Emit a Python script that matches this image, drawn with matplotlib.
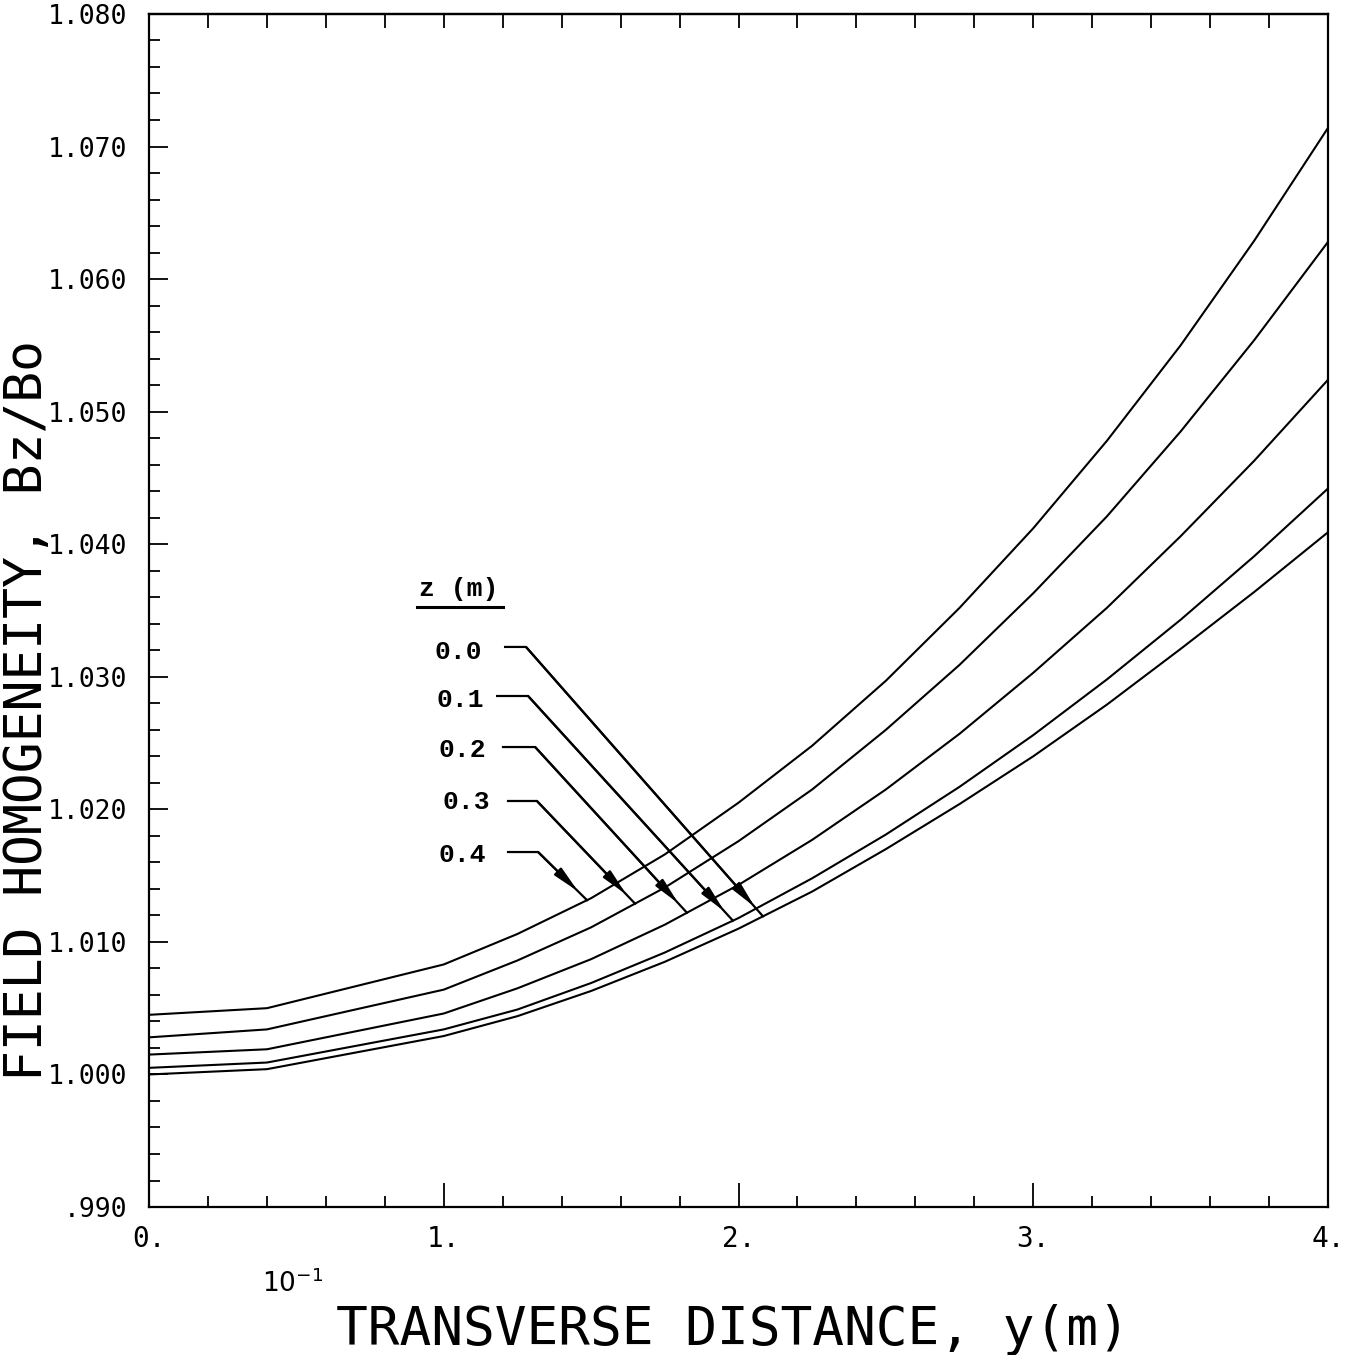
import numpy as np
import matplotlib
matplotlib.use("Agg")
import matplotlib.pyplot as plt
from matplotlib.ticker import MultipleLocator, FixedLocator

# ---------------- data ----------------
y_pos = [0.0, 0.4, 1.0, 1.25, 1.5, 1.75, 2.0, 2.25, 2.5, 2.75, 3.0, 3.25, 3.5, 3.75, 4.0]   # units of 1e-1 m
z_labels = ["0.0", "0.1", "0.2", "0.3", "0.4"]
bz_z00 = [1.0000, 1.0004, 1.0029, 1.0044, 1.0063, 1.0085, 1.0110, 1.0138, 1.0170,
          1.0204, 1.0240, 1.0279, 1.0321, 1.0364, 1.0409]
bz_z01 = [1.0005, 1.0009, 1.0034, 1.0049, 1.0069, 1.0092, 1.0118, 1.0148, 1.0181,
          1.0217, 1.0256, 1.0298, 1.0343, 1.0391, 1.0442]
bz_z02 = [1.0015, 1.0019, 1.0046, 1.0065, 1.0087, 1.0113, 1.0143, 1.0177, 1.0215,
          1.0257, 1.0303, 1.0352, 1.0406, 1.0463, 1.0524]
bz_z03 = [1.0028, 1.0034, 1.0064, 1.0086, 1.0111, 1.0141, 1.0176, 1.0215, 1.0260,
          1.0309, 1.0363, 1.0421, 1.0485, 1.0554, 1.0628]
bz_z04 = [1.0045, 1.0050, 1.0083, 1.0106, 1.0133, 1.0166, 1.0205, 1.0248, 1.0297,
          1.0352, 1.0412, 1.0478, 1.0550, 1.0629, 1.0714]
series = [bz_z00, bz_z01, bz_z02, bz_z03, bz_z04]

x_ticks = [0, 1, 2, 3, 4]
x_tick_labels = ["0.", "1.", "2.", "3.", "4."]
y_ticks = [0.990, 1.000, 1.010, 1.020, 1.030, 1.040, 1.050, 1.060, 1.070, 1.080]
y_tick_labels = [".990", "1.000", "1.010", "1.020", "1.030", "1.040",
                 "1.050", "1.060", "1.070", "1.080"]

# label placement (layout only)
label_xy = [(1.048, 1.03187), (1.055, 1.02825), (1.062, 1.02448), (1.075, 1.02056), (1.062, 1.01656)]
leader_y = [1.03225, 1.02855, 1.02470, 1.02063, 1.01678]
leader_x0 = [1.208, 1.181, 1.201, 1.218, 1.218]
leader_knee = [1.279, 1.286, 1.310, 1.316, 1.320]
leader_tip_x = [2.083, 1.981, 1.825, 1.649, 1.486]

PLOTTER = "DejaVu Sans Mono"

# ---------------- figure ----------------
fig = plt.figure(figsize=(13.49, 13.55), dpi=100)
ax = fig.add_axes([0.1105, 0.1092, 0.8739, 0.8805])

for s in series:
    ax.plot(y_pos, s, color="black", lw=1.5)

ax.set_xlim(0, 4)
ax.set_ylim(0.990, 1.080)

for sp in ax.spines.values():
    sp.set_linewidth(1.6)

ax.xaxis.set_major_locator(FixedLocator(x_ticks))
ax.xaxis.set_minor_locator(MultipleLocator(0.2))
ax.yaxis.set_major_locator(FixedLocator(y_ticks))
ax.yaxis.set_minor_locator(MultipleLocator(0.002))
ax.set_xticklabels(x_tick_labels, family=PLOTTER)
ax.set_yticklabels(y_tick_labels, family=PLOTTER)

ax.tick_params(axis="x", which="major", direction="in", length=17, width=1.3,
               labelsize=20, pad=13, top=False, bottom=True)
ax.tick_params(axis="x", which="minor", direction="in", length=8, width=1.3,
               top=False, bottom=True)
ax.tick_params(axis="y", which="major", direction="in", length=14, width=1.3,
               labelsize=19, pad=16, right=False, left=True)
ax.tick_params(axis="y", which="minor", direction="in", length=8, width=1.3,
               right=False, left=True)

# top ticks: all short, every 0.2
sec = ax.secondary_xaxis("top")
sec.xaxis.set_major_locator(MultipleLocator(0.2))
sec.tick_params(axis="x", which="major", direction="in", length=10, width=1.3,
                labeltop=False)
sec.xaxis.set_minor_locator(plt.NullLocator())
sec.spines["top"].set_linewidth(1.6)

# legend-like annotation
mono = dict(family="Liberation Mono", weight="bold", size=19)
ax.text(1.05, 1.0366, "z (m)", ha="center", va="center", **mono)
ax.plot([0.909, 1.201], [1.0353, 1.0353], color="black", lw=2.2)

for i, lab in enumerate(z_labels):
    tx, ty = label_xy[i]
    ax.text(tx, ty, lab, ha="center", va="center", **mono)
    tip_y = float(np.interp(leader_tip_x[i], y_pos, series[i]))
    ax.plot([leader_x0[i], leader_knee[i], leader_tip_x[i]],
            [leader_y[i], leader_y[i], tip_y], color="black", lw=1.6)
    ax.annotate("", xy=(leader_tip_x[i], tip_y), xytext=(leader_knee[i], leader_y[i]),
                arrowprops=dict(arrowstyle="-|>,head_length=1.6,head_width=0.3",
                                color="black", lw=1.6, shrinkA=0, shrinkB=9,
                                mutation_scale=10))

# axis titles
fig.text(0.0205, 0.476, "FIELD HOMOGENEITY, Bz/Bo", rotation=90, ha="center", va="center",
         fontsize=37, family=PLOTTER)
fig.text(0.543, 0.0074, "TRANSVERSE DISTANCE, y(m)", ha="center", va="baseline",
         fontsize=38, family=PLOTTER)
fig.text(0.194, 0.0465, r"$10^{-1}$", ha="left", va="baseline", fontsize=19)

fig.savefig("out.png", dpi=100, facecolor="white")
